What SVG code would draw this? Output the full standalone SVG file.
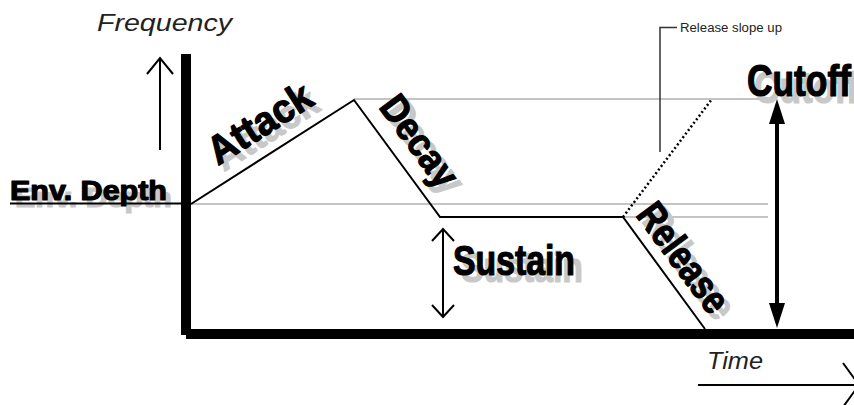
<svg xmlns="http://www.w3.org/2000/svg" width="854" height="405" viewBox="0 0 854 405">
<style>
.big{font-family:"Liberation Sans",Arial,sans-serif;font-weight:bold;stroke-width:1.2;stroke-linejoin:round;}
.it{font-family:"Liberation Sans",Arial,sans-serif;font-style:italic;fill:#222;}
.sh{fill:#c8c8c8;stroke:#c8c8c8;}
.blk{fill:#000;stroke:#000;}
.grey{stroke:#c4c4c4;stroke-width:2;fill:none;}
.thin{stroke:#000;stroke-width:2;fill:none;}
</style>
<rect width="854" height="405" fill="#fff"/>
<g id="guides">
<line class="grey" x1="354" y1="99" x2="770" y2="99"/>
<line class="grey" x1="191" y1="204" x2="768" y2="204"/>
<line class="grey" x1="440" y1="217" x2="768" y2="217"/>
</g>
<g id="axes">
<rect x="181" y="54" width="10" height="281" fill="#000"/>
<rect x="186" y="329" width="668" height="10" fill="#000"/>
</g>
<g id="frequency">
<text class="it" x="97" y="31" font-size="23" textLength="135" lengthAdjust="spacingAndGlyphs">Frequency</text>
</g>
<g id="time">
<text class="it" x="707" y="369" font-size="23" textLength="56" lengthAdjust="spacingAndGlyphs">Time</text>
</g>
<g id="env-depth">
<text class="big sh" x="15" y="207" font-size="28" textLength="157" lengthAdjust="spacingAndGlyphs">Env. Depth</text>
<text class="big blk" x="10" y="200" font-size="28" textLength="157" lengthAdjust="spacingAndGlyphs">Env. Depth</text>
<line x1="10" y1="203.5" x2="182" y2="203.5" stroke="#000" stroke-width="2"/>
</g>
<g id="envelope">
<polyline class="thin" points="191,204 354,100 440,217 623,217 705,329"/>
</g>
<g id="attack">
<text class="big sh" transform="translate(224,172) rotate(-32.5)" font-size="40" textLength="116" lengthAdjust="spacingAndGlyphs">Attack</text>
<text class="big blk" transform="translate(218,166) rotate(-32.5)" font-size="40" textLength="116" lengthAdjust="spacingAndGlyphs">Attack</text>
</g>
<g id="decay">
<text class="big sh" transform="translate(384,113) rotate(53.7)" font-size="39" textLength="104" lengthAdjust="spacingAndGlyphs">Decay</text>
<text class="big blk" transform="translate(378,107) rotate(53.7)" font-size="39" textLength="104" lengthAdjust="spacingAndGlyphs">Decay</text>
</g>
<g id="release">
<text class="big sh" transform="translate(641,221) rotate(53.5)" font-size="40" textLength="126" lengthAdjust="spacingAndGlyphs">Release</text>
<text class="big blk" transform="translate(635,215) rotate(53.5)" font-size="40" textLength="126" lengthAdjust="spacingAndGlyphs">Release</text>
</g>
<g id="sustain">
<text class="big sh" x="461" y="282" font-size="42" textLength="122" lengthAdjust="spacingAndGlyphs">Sustain</text>
<text class="big blk" x="453" y="275" font-size="42" textLength="122" lengthAdjust="spacingAndGlyphs">Sustain</text>
</g>
<g id="cutoff">
<text class="big sh" x="754" y="103" font-size="44" textLength="104" lengthAdjust="spacingAndGlyphs">Cutoff</text>
<text class="big blk" x="747" y="96" font-size="44" textLength="104" lengthAdjust="spacingAndGlyphs">Cutoff</text>
</g>
<g id="release-slope-up">
<text x="680" y="32" font-family="Liberation Sans, Arial, sans-serif" font-size="12.5" fill="#222" textLength="102" lengthAdjust="spacingAndGlyphs">Release slope up</text>
</g>
<g id="connectors">
<line x1="160" y1="150" x2="160" y2="58" class="thin"/>
<polyline points="147,74 160,58 173,74" class="thin"/>
<line x1="698" y1="385" x2="860" y2="385" class="thin"/>
<polyline points="843,363 859,385 843,407" class="thin"/>
<line x1="443" y1="229" x2="443" y2="317" class="thin"/>
<polyline points="432,241 443,229 454,241" class="thin"/>
<polyline points="432,305 443,317 454,305" class="thin"/>
<line x1="777" y1="118" x2="777" y2="309" stroke="#000" stroke-width="4"/>
<polygon points="777,99 785,124 769,124" fill="#000"/>
<polygon points="777,328 785,303 769,303" fill="#000"/>
<line x1="623" y1="217" x2="712" y2="99" stroke="#000" stroke-width="2.5" stroke-dasharray="2 2.5"/>
<polyline points="660,152 660,27.5 677,27.5" fill="none" stroke="#333" stroke-width="1.5"/>
</g>
</svg>
